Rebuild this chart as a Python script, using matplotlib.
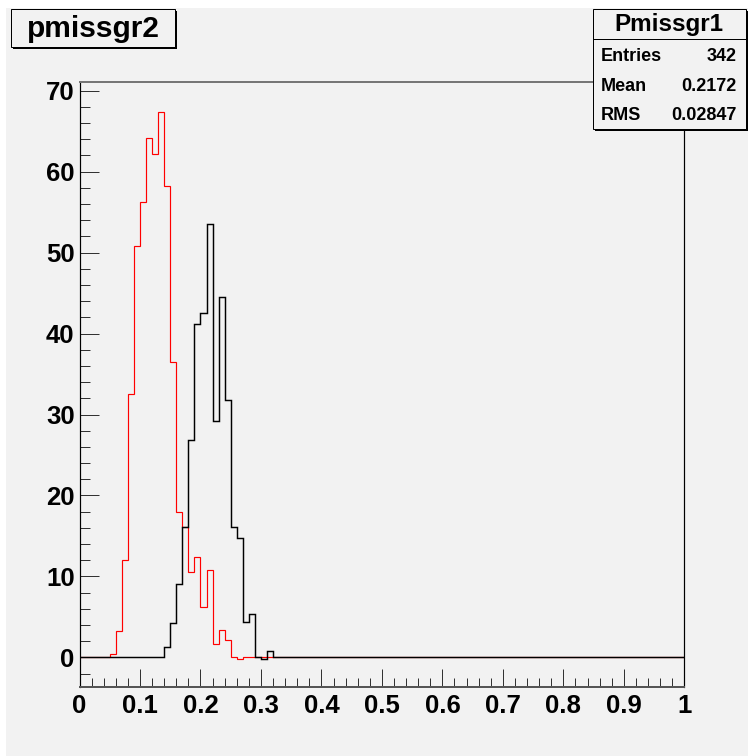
import numpy as np
import matplotlib
matplotlib.use('Agg')
import matplotlib.pyplot as plt
from matplotlib.patches import Rectangle
from matplotlib.lines import Line2D
from matplotlib.ticker import MultipleLocator, FixedLocator, FixedFormatter

W, H = 748, 756
BG = '#f2f2f2'
FONT = 'Liberation Sans'
PX = 0.72  # one pixel in points at dpi 100

# ---------------- data ----------------
bin_edges = np.linspace(0.0, 1.0, 101)

pmissgr2_first_bin = 5      # bin starting at 0.05
pmissgr2_values = [0.35, 3.2, 12.0, 32.5, 50.8, 56.3, 64.2, 62.2, 67.4, 58.2,
                   36.5, 17.9, 16.1, 10.6, 12.4, 6.2, 10.8, 1.7, 3.4, 2.1,
                   0.0, -0.25]

pmissgr1_first_bin = 14     # bin starting at 0.14
pmissgr1_values = [1.3, 4.3, 9.05, 16.1, 26.9, 41.2, 42.6, 53.5, 29.2, 44.5,
                   31.8, 16.1, 14.7, 4.4, 5.4, 0.1, -0.25, 0.8]

x_ticks = [0.0, 0.1, 0.2, 0.3, 0.4, 0.5, 0.6, 0.7, 0.8, 0.9, 1.0]
x_tick_labels = ['0', '0.1', '0.2', '0.3', '0.4', '0.5', '0.6', '0.7', '0.8', '0.9', '1']
y_ticks = [0, 10, 20, 30, 40, 50, 60, 70]
y_tick_labels = ['0', '10', '20', '30', '40', '50', '60', '70']

title_text = 'pmissgr2'
stats_title = 'Pmissgr1'
stats_names = ['Entries', 'Mean', 'RMS']
stats_values = ['342', '0.2172', '0.02847']

# ---------------- figure ----------------
red_counts = np.zeros(len(bin_edges) - 1)
red_counts[pmissgr2_first_bin:pmissgr2_first_bin + len(pmissgr2_values)] = pmissgr2_values
black_counts = np.zeros(len(bin_edges) - 1)
black_counts[pmissgr1_first_bin:pmissgr1_first_bin + len(pmissgr1_values)] = pmissgr1_values

fig = plt.figure(figsize=(W / 100, H / 100), dpi=100)
fig.patch.set_facecolor('white')


def px_rect(x0, y0, x1, y1, **kw):
    r = Rectangle((x0 / W, 1 - y1 / H), (x1 - x0) / W, (y1 - y0) / H,
                  transform=fig.transFigure, **kw)
    fig.add_artist(r)
    return r


def px_text(x, y, s, **kw):
    return fig.text(x / W, 1 - y / H, s, **kw)


# canvas
px_rect(6, 8, W, H, facecolor=BG, edgecolor='none', zorder=-10)

ax_l, ax_r, ax_t, ax_b = 79.5, 684.3, 82.0, 686.7
ax = fig.add_axes([ax_l / W, 1 - ax_b / H, (ax_r - ax_l) / W, (ax_b - ax_t) / H])
ax.set_facecolor('none')
ax.set_xlim(0, 1)
ax.set_ylim(-3.63, 71.08)

ax.stairs(red_counts, bin_edges, baseline=None, color='#ff0000', lw=0.85, zorder=2)
ax.stairs(black_counts, bin_edges, baseline=None, color='black', lw=1.05, zorder=3)

ax.xaxis.set_major_locator(FixedLocator(x_ticks))
ax.xaxis.set_major_formatter(FixedFormatter(x_tick_labels))
ax.xaxis.set_minor_locator(MultipleLocator(0.02))
ax.yaxis.set_major_locator(FixedLocator(y_ticks))
ax.yaxis.set_major_formatter(FixedFormatter(y_tick_labels))
ax.yaxis.set_minor_locator(MultipleLocator(2))

ax.tick_params(axis='both', which='both', direction='in', top=False, right=False,
               color='#333333', width=1.0 * PX)
ax.tick_params(axis='y', which='major', length=18.7 * PX, pad=5 * PX)
ax.tick_params(axis='y', which='minor', length=10 * PX)
ax.tick_params(axis='x', which='major', length=17.7 * PX, pad=7 * PX)
ax.tick_params(axis='x', which='minor', length=9.3 * PX)

for lab in ax.get_xticklabels() + ax.get_yticklabels():
    lab.set_fontfamily(FONT)
    lab.set_fontweight('bold')
    lab.set_fontsize(18.5)

ax.spines['left'].set_color('black')
ax.spines['left'].set_linewidth(1.2 * PX)
ax.spines['bottom'].set_color('#555555')
ax.spines['bottom'].set_linewidth(2.0 * PX)
ax.spines['top'].set_color('#777777')
ax.spines['top'].set_linewidth(2.0 * PX)
ax.spines['right'].set_color('black')
ax.spines['right'].set_linewidth(1.2 * PX)

# title box
px_rect(13, 11, 177, 49, facecolor='black', edgecolor='none', zorder=20)
px_rect(11, 9, 175, 47, facecolor=BG, edgecolor='black', lw=1.0 * PX, zorder=21)
px_text(93, 29, title_text, ha='center', va='center', fontsize=21.5,
        fontweight='bold', family=FONT, zorder=22)

# stats box
px_rect(595, 11, 748, 131, facecolor='black', edgecolor='none', zorder=20)
px_rect(593, 9, 746, 129, facecolor=BG, edgecolor='black', lw=1.0 * PX, zorder=21)
fig.add_artist(Line2D([593 / W, 746 / W], [1 - 39.3 / H, 1 - 39.3 / H],
                      transform=fig.transFigure, color='black', lw=1.0 * PX, zorder=22))
px_text(669, 24.5, stats_title, ha='center', va='center', fontsize=17.5,
        fontweight='bold', family=FONT, zorder=22)
row_y = [56.5, 86.5, 115.5]
for name, val, yy in zip(stats_names, stats_values, row_y):
    px_text(601, yy, name, ha='left', va='center', fontsize=13,
            fontweight='bold', family=FONT, zorder=22)
    px_text(737, yy, val, ha='right', va='center', fontsize=13,
            fontweight='bold', family=FONT, zorder=22)

fig.savefig('out.png', dpi=100, facecolor=fig.get_facecolor())
